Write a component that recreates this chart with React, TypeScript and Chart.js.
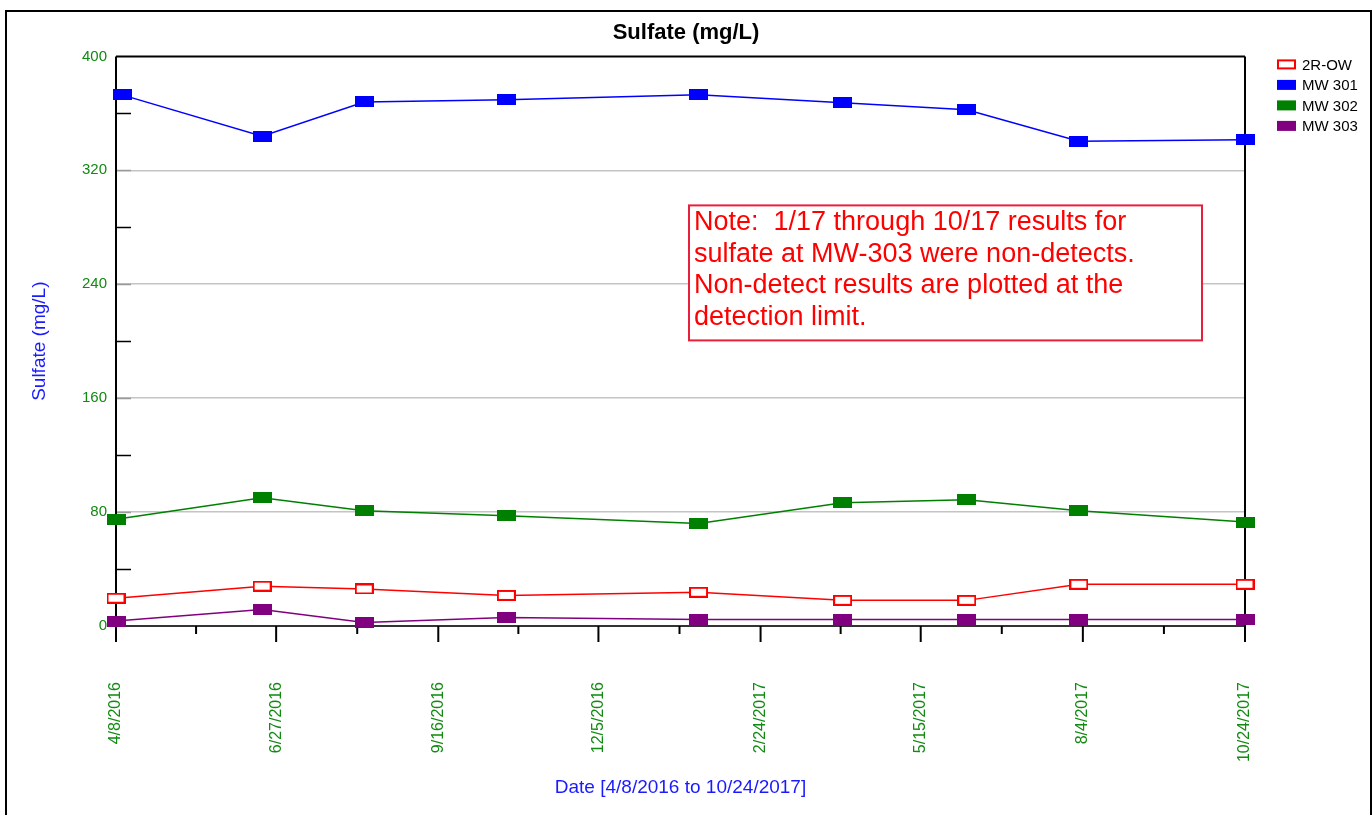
import React, { useEffect, useRef } from 'react';
import { Chart, registerables } from 'chart.js';

Chart.register(...registerables);

// ---------------- data ----------------
const BASE_DATE = '2016-04-08';
const SAMPLE_DATES = ['2016-04-08', '2016-06-20', '2016-08-10', '2016-10-20', '2017-01-24', '2017-04-06', '2017-06-07', '2017-08-02', '2017-10-24'];
const SAMPLE_DATES_MW301 = ['2016-04-11', '2016-06-20', '2016-08-10', '2016-10-20', '2017-01-24', '2017-04-06', '2017-06-07', '2017-08-02', '2017-10-24'];
const X_TICK_LABELS = ['4/8/2016', '6/27/2016', '9/16/2016', '12/5/2016', '2/24/2017', '5/15/2017', '8/4/2017', '10/24/2017'];
const Y_TICKS = [0, 80, 160, 240, 320, 400];
const Y_MINOR_TICKS = [40, 120, 200, 280, 360];
const SERIES_LABELS = ['2R-OW', 'MW 301', 'MW 302', 'MW 303'];
const VALUES_2R_OW = [19.5, 28, 26, 21.5, 23.7, 18, 18, 29.3, 29.3];
const VALUES_MW301 = [373, 344, 368, 369.5, 373, 367.5, 362.5, 340.5, 341.5];
const VALUES_MW302 = [75, 90, 81, 77.5, 72, 86.5, 88.6, 81, 73];
const VALUES_MW303 = [3.5, 11.5, 2.5, 6, 4.5, 4.5, 4.5, 4.5, 4.5];
const NOTE_LINES = [
  'Note:  1/17 through 10/17 results for',
  'sulfate at MW-303 were non-detects.',
  'Non-detect results are plotted at the',
  'detection limit.',
];
const TITLE = 'Sulfate (mg/L)';
const Y_TITLE = 'Sulfate (mg/L)';
const X_TITLE = 'Date [4/8/2016 to 10/24/2017]';

const FONT = "'Liberation Sans', Arial, sans-serif";
const GREEN_TEXT = '#118a11';

const DAY = 86400000;
function isoToDay(iso: string): number {
  const [y, m, d] = iso.split('-').map(Number);
  const [by, bm, bd] = BASE_DATE.split('-').map(Number);
  return (Date.UTC(y, m - 1, d) - Date.UTC(by, bm - 1, bd)) / DAY;
}
function mdyToDay(s: string): number {
  const [m, d, y] = s.split('/').map(Number);
  const [by, bm, bd] = BASE_DATE.split('-').map(Number);
  return (Date.UTC(y, m - 1, d) - Date.UTC(by, bm - 1, bd)) / DAY;
}
const X_TICK_DAYS = X_TICK_LABELS.map(mdyToDay);

function makeMarker(fill: string, stroke: string | null): HTMLCanvasElement {
  const c = document.createElement('canvas');
  c.width = 19;
  c.height = 11;
  const ctx = c.getContext('2d')!;
  if (stroke) {
    ctx.fillStyle = '#ffffff';
    ctx.fillRect(1, 1, 17, 9);
    ctx.strokeStyle = stroke;
    ctx.lineWidth = 2;
    ctx.strokeRect(1, 1, 17, 9);
  } else {
    ctx.fillStyle = fill;
    ctx.fillRect(0, 0, 19, 11);
  }
  return c;
}

const framePlugin = {
  id: 'framePlugin',
  beforeDatasetsDraw(chart: any) {
    const { ctx, chartArea } = chart;
    const xs = chart.scales.x;
    const ys = chart.scales.y;
    const { left, right, top, bottom } = chartArea;
    ctx.save();
    // y ticks (inward)
    ctx.lineWidth = 1.5;
    ctx.strokeStyle = '#000';
    Y_MINOR_TICKS.forEach((v) => {
      const y = Math.round(ys.getPixelForValue(v)) + 0.5;
      ctx.beginPath();
      ctx.moveTo(left, y);
      ctx.lineTo(left + 15, y);
      ctx.stroke();
    });
    ctx.strokeStyle = '#9a9a9a';
    Y_TICKS.slice(1, -1).forEach((v) => {
      const y = Math.round(ys.getPixelForValue(v)) + 0.5;
      ctx.beginPath();
      ctx.moveTo(left, y);
      ctx.lineTo(left + 15, y);
      ctx.stroke();
    });
    // bottom axis
    ctx.lineWidth = 2;
    ctx.strokeStyle = '#333';
    ctx.beginPath();
    ctx.moveTo(left, bottom);
    ctx.lineTo(right, bottom);
    ctx.stroke();
    // top border
    ctx.strokeStyle = '#000';
    ctx.beginPath();
    ctx.moveTo(left, top);
    ctx.lineTo(right, top);
    ctx.stroke();
    // left & right borders extending to major tick length
    ctx.beginPath();
    ctx.moveTo(left, top);
    ctx.lineTo(left, bottom + 16);
    ctx.moveTo(right, top);
    ctx.lineTo(right, bottom + 16);
    ctx.stroke();
    // x major ticks
    X_TICK_DAYS.forEach((d) => {
      const x = xs.getPixelForValue(d);
      ctx.beginPath();
      ctx.moveTo(x, bottom);
      ctx.lineTo(x, bottom + 16);
      ctx.stroke();
    });
    // x minor ticks
    for (let i = 0; i < X_TICK_DAYS.length - 1; i++) {
      const x = xs.getPixelForValue((X_TICK_DAYS[i] + X_TICK_DAYS[i + 1]) / 2);
      ctx.beginPath();
      ctx.moveTo(x, bottom);
      ctx.lineTo(x, bottom + 8);
      ctx.stroke();
    }
    ctx.restore();
  },
  afterDraw(chart: any) {
    const { ctx, chartArea } = chart;
    ctx.save();
    // outer frame
    ctx.lineWidth = 2;
    ctx.strokeStyle = '#000';
    ctx.strokeRect(6, 11, 1365, 900);

    // legend
    const lx = chartArea.right + 32;
    const ly0 = chartArea.top + 8;
    ctx.font = `15px ${FONT}`;
    ctx.textBaseline = 'middle';
    ctx.textAlign = 'left';
    chart.data.datasets.forEach((ds: any, i: number) => {
      const cy = ly0 + i * 20.5;
      if (ds.hollow) {
        ctx.fillStyle = '#fff';
        ctx.fillRect(lx + 1, cy - 4, 17, 8);
        ctx.strokeStyle = ds.borderColor;
        ctx.lineWidth = 2;
        ctx.strokeRect(lx + 1, cy - 4, 17, 8);
      } else {
        ctx.fillStyle = ds.borderColor;
        ctx.fillRect(lx, cy - 5, 19, 10);
      }
      ctx.fillStyle = '#000';
      ctx.fillText(ds.label, lx + 25, cy + 1);
    });

    // note box
    const bx = chartArea.left + 573;
    const by = chartArea.top + 149;
    const bw = 513;
    const bh = 135;
    ctx.fillStyle = '#fff';
    ctx.fillRect(bx, by, bw, bh);
    ctx.strokeStyle = '#e8203c';
    ctx.lineWidth = 2;
    ctx.strokeRect(bx, by, bw, bh);
    ctx.fillStyle = '#ff0000';
    ctx.font = `27px ${FONT}`;
    ctx.textBaseline = 'middle';
    NOTE_LINES.forEach((line, i) => {
      ctx.fillText(line, bx + 5, by + 17 + i * 31.7);
    });
    ctx.restore();
  },
};

export default function App() {
  const ref = useRef<HTMLCanvasElement | null>(null);
  useEffect(() => {
    if (!ref.current) return;
    const mk = (dates: string[], vals: number[]) => dates.map((d, i) => ({ x: isoToDay(d), y: vals[i] }));
    const colors = ['#ff0000', '#0000ff', '#008000', '#800080'];
    const series = [
      mk(SAMPLE_DATES, VALUES_2R_OW),
      mk(SAMPLE_DATES_MW301, VALUES_MW301),
      mk(SAMPLE_DATES, VALUES_MW302),
      mk(SAMPLE_DATES, VALUES_MW303),
    ];
    const datasets = series.map((data, i) => ({
      label: SERIES_LABELS[i],
      data,
      borderColor: colors[i],
      backgroundColor: colors[i],
      borderWidth: 1.5,
      pointStyle: i === 0 ? makeMarker(colors[i], colors[i]) : makeMarker(colors[i], null),
      pointRadius: 6,
      hollow: i === 0,
      clip: false as any,
      tension: 0,
    }));

    const chart = new Chart(ref.current, {
      type: 'line',
      data: { datasets: datasets as any },
      plugins: [framePlugin],
      options: {
        animation: false,
        responsive: false,
        devicePixelRatio: 1,
        layout: { padding: 0 },
        plugins: {
          legend: { display: false },
          tooltip: { enabled: false },
          title: {
            display: true,
            text: TITLE,
            color: '#000',
            font: { family: FONT, size: 22, weight: 'bold' },
            padding: { top: 20, bottom: 10 },
          },
        },
        scales: {
          x: {
            type: 'linear',
            min: 0,
            max: X_TICK_DAYS[X_TICK_DAYS.length - 1],
            afterBuildTicks: (scale: any) => {
              scale.ticks = X_TICK_DAYS.map((v) => ({ value: v }));
            },
            afterFit: (scale: any) => {
              scale.height = 189;
            },
            grid: { display: false, drawTicks: false },
            border: { display: false },
            ticks: {
              autoSkip: false,
              minRotation: 90,
              maxRotation: 90,
              padding: 56,
              color: GREEN_TEXT,
              font: { family: FONT, size: 16 },
              callback: (_v: any, i: number) => X_TICK_LABELS[i],
            },
            title: {
              display: true,
              text: X_TITLE,
              color: '#1a1aff',
              font: { family: FONT, size: 19 },
              padding: { top: 0, bottom: 15.6 },
            },
          },
          y: {
            type: 'linear',
            position: 'left',
            min: 0,
            max: 400,
            afterBuildTicks: (scale: any) => {
              scale.ticks = Y_TICKS.map((v) => ({ value: v }));
            },
            afterFit: (scale: any) => {
              scale.width = 116;
            },
            grid: {
              drawTicks: false,
              color: (c: any) => (c.tick && (c.tick.value === 0 || c.tick.value === 400) ? 'rgba(0,0,0,0)' : '#c4c4c4'),
              lineWidth: 1.5,
            },
            border: { display: false },
            ticks: {
              padding: 9,
              color: GREEN_TEXT,
              font: { family: FONT, size: 15 },
            },
            title: {
              display: true,
              text: Y_TITLE,
              color: '#1a1aff',
              font: { family: FONT, size: 19 },
              padding: { top: 28.6, bottom: 0 },
            },
          },
          yRight: {
            type: 'linear',
            position: 'right',
            min: 0,
            max: 400,
            afterFit: (scale: any) => {
              scale.width = 127;
            },
            grid: { display: false, drawTicks: false },
            border: { display: false },
            ticks: { display: false },
          },
        },
      } as any,
    });
    return () => chart.destroy();
  }, []);
  return (
    <div style={{ position: 'fixed', left: 0, top: 0, width: 1372, height: 815, background: '#fff' }}>
      <canvas ref={ref} width={1372} height={815} style={{ width: 1372, height: 815, display: 'block' }} />
    </div>
  );
}
